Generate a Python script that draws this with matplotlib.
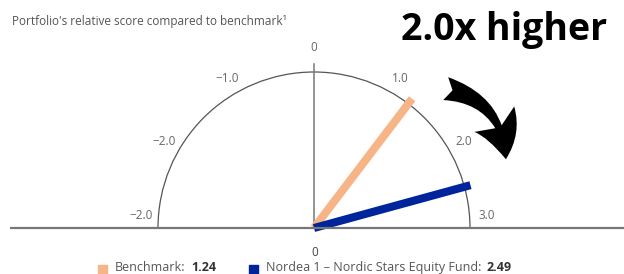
import numpy as np
import matplotlib
matplotlib.use("Agg")
import matplotlib.pyplot as plt
from matplotlib.patches import Arc, Rectangle, FancyArrowPatch

plt.rcParams["font.family"] = ["Open Sans", "DejaVu Sans"]

# data
series_names = ["Benchmark:", "Nordea 1 \u2013 Nordic Stars Equity Fund:"]
series_values = [1.24, 2.49]
series_labels = ["1.24", "2.49"]
series_colors = ["#F7B487", "#00249C"]
tick_values = [-3, -2, -1, 0, 1, 2, 3]
tick_labels = ["\u22122.0", "\u22122.0", "\u22121.0", "0", "1.0", "2.0", "3.0"]

W, H = 624, 274
CX, CY, R = 314, 228, 156   # gauge centre / radius in pixels


def angle(v):
    # 0 at top, 3.0 at the right end, 30 degrees per unit
    return np.deg2rad(90 - 30 * v)


fig = plt.figure(figsize=(W / 100, H / 100), dpi=100)
ax = fig.add_axes([0, 0, 1, 1])
ax.set_xlim(-CX / R, (W - CX) / R)
ax.set_ylim(-(H - CY) / R, CY / R)
ax.axis("off")

# gauge frame
ax.add_patch(Arc((0, 0), 2, 2, theta1=0, theta2=180, color="#555555", lw=0.9, zorder=2))
ax.plot([0, 0], [0, 1.05], color="#777777", lw=1.1, zorder=2)
ax.plot([-(CX - 10) / R, (W - CX) / R], [0, 0], color="#777777", lw=1.6, zorder=4,
        solid_capstyle="butt")

# tick labels
for v, lab in zip(tick_values, tick_labels):
    if abs(v) == 3:
        x, y = np.sign(v) * 1.11, 0.077
    else:
        r = 1.16 if v == 0 else 1.11
        x, y = r * np.cos(angle(v)), r * np.sin(angle(v))
    ax.text(x, y, lab, ha="center", va="center", fontsize=8.5, color="#666666")
ax.text(0.006, -0.154, "0", ha="center", va="center", fontsize=8.5, color="#444444")

# needles
for v, c in zip(series_values, series_colors):
    a = angle(v)
    ax.plot([0, 1.04 * np.cos(a)], [0, 1.04 * np.sin(a)], color=c, lw=5.8,
            solid_capstyle="butt", zorder=3)

# curved arrow
arrow = FancyArrowPatch((0.827, 0.897), (1.231, 0.423),
                        connectionstyle="arc3,rad=-0.4",
                        arrowstyle="fancy,head_length=0.75,head_width=0.85,tail_width=0.42",
                        mutation_scale=40, color="black", lw=0, zorder=5)
ax.add_patch(arrow)

# headline texts
fig.text(12 / W, 1 - 21 / H, "Portfolio's relative score compared to benchmark\u00b9",
         ha="left", va="center", fontsize=8.5, color="#555555")
fig.text(607 / W, 1 - 40 / H, "2.0x higher", ha="right", va="baseline",
         fontsize=27, fontweight="bold", color="black")

# legend
legend_x = [98, 249]
for x0, name, val, c in zip(legend_x, series_names, series_labels, series_colors):
    fig.add_artist(Rectangle((x0 / W, (H - 274) / H), 9 / W, 9 / H, color=c,
                             transform=fig.transFigure))
    t = fig.text((x0 + 17) / W, 3 / H, name, ha="left", va="baseline",
                 fontsize=9, color="#555555")
    ax.annotate(val, xy=(1, 0), xycoords=t, xytext=(4, 0), textcoords="offset points",
                ha="left", va="bottom", fontsize=9, fontweight="bold", color="#333333")

fig.savefig("out.png", dpi=100)
